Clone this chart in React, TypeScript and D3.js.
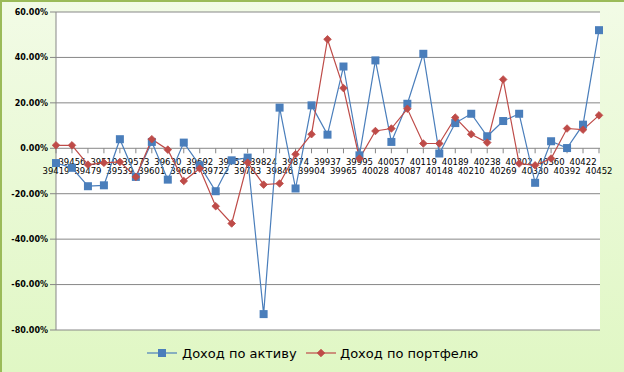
import React from 'react';
import * as d3 from 'd3';

const dates = [
  '39419', '39456', '39479', '39510', '39539', '39573', '39601', '39630', '39661', '39692',
  '39722', '39753', '39783', '39824', '39846', '39874', '39904', '39937', '39965', '39995',
  '40028', '40057', '40087', '40119', '40148', '40189', '40210', '40238', '40269', '40302',
  '40330', '40360', '40392', '40422', '40452',
];

// Доход по активу
const assetReturn = [
  -6.5, -8.6, -16.7, -16.3, 4.0, -12.6, 2.8, -13.8, 2.5, -7.5,
  -18.9, -5.3, -4.1, -73.0, 17.9, -17.7, 18.9, 6.0, 36.0, -3.1,
  38.7, 2.8, 19.6, 41.6, -2.3, 11.1, 15.2, 5.3, 12.0, 15.2,
  -15.2, 3.1, 0.1, 10.4, 52.0,
];

// Доход по портфелю
const portfolioReturn = [
  1.3, 1.3, -7.2, -6.4, -6.0, -12.6, 4.0, -0.6, -14.4, -8.9,
  -25.5, -33.1, -6.3, -16.0, -15.5, -2.6, 6.2, 48.0, 26.5, -4.5,
  7.6, 8.7, 17.4, 2.1, 2.1, 13.5, 6.2, 2.5, 30.3, -6.7,
  -7.5, -4.5, 8.7, 8.2, 14.5,
];

const yTicks = [60, 40, 20, 0, -20, -40, -60, -80];

const W = 624;
const H = 372;
const plot = { left: 56, right: 599, top: 12, bottom: 330 };
const BLUE = '#4a7ebb';
const RED = '#be4b48';
const GRID = '#878787';

export default function App() {
  const x = d3.scalePoint<number>()
    .domain(d3.range(dates.length))
    .range([plot.left, plot.right]);
  const y = d3.scaleLinear().domain([-80, 60]).range([plot.bottom, plot.top]);

  const line = d3.line<number>()
    .x((_, i) => x(i)!)
    .y(d => y(d));

  const diamond = (cx: number, cy: number, r: number) =>
    `M${cx},${cy - r}L${cx + r},${cy}L${cx},${cy + r}L${cx - r},${cy}Z`;

  return (
    <svg
      width={W}
      height={H}
      style={{ position: 'absolute', left: 0, top: 0, fontFamily: 'DejaVu Sans' }}
    >
      <defs>
        <linearGradient id="bg" x1="0" y1="0" x2="0" y2="1">
          <stop offset="0" stopColor="#f2fbe6" />
          <stop offset="1" stopColor="#e0f7c4" />
        </linearGradient>
      </defs>
      <rect x={0} y={0} width={W} height={H} fill="url(#bg)" />
      <path d={`M1,${H}V1H${W}`} fill="none" stroke="#9bbb59" strokeWidth={2} />

      <rect
        x={plot.left}
        y={plot.top}
        width={plot.right - plot.left + 1}
        height={plot.bottom - plot.top}
        fill="#fff"
      />

      {yTicks.map(t => (
        <g key={t}>
          <line x1={plot.left - 6} x2={plot.right + 1} y1={y(t)} y2={y(t)} stroke={GRID} strokeWidth={1} />
          <text
            x={plot.left - 8}
            y={y(t)}
            dy="0.35em"
            textAnchor="end"
            fontSize={8}
            fontWeight="bold"
            fill="#000"
          >
            {`${t.toFixed(2)}%`}
          </text>
        </g>
      ))}
      <line x1={plot.left} x2={plot.left} y1={plot.top} y2={plot.bottom} stroke={GRID} strokeWidth={1} />

      {dates.map((d, i) => (
        <g key={d}>
          <line x1={x(i)} x2={x(i)} y1={y(0)} y2={y(0) + 5} stroke={GRID} strokeWidth={1} />
          <text
            x={x(i)}
            y={y(0) + (i % 2 === 0 ? 26 : 17)}
            textAnchor="middle"
            fontSize={8.5}
            fill="#000"
          >
            {d}
          </text>
        </g>
      ))}

      <path d={line(assetReturn) ?? ''} fill="none" stroke={BLUE} strokeWidth={1.2} />
      <path d={line(portfolioReturn) ?? ''} fill="none" stroke={RED} strokeWidth={1.2} />

      {assetReturn.map((v, i) => (
        <rect key={i} x={x(i)! - 4} y={y(v) - 4} width={8} height={8} fill={BLUE} />
      ))}
      {portfolioReturn.map((v, i) => (
        <path key={i} d={diamond(x(i)!, y(v), 3.8)} fill={RED} stroke={RED} strokeWidth={0.8} />
      ))}

      <g transform="translate(147,353)">
        <line x1={0} x2={30} y1={0} y2={0} stroke={BLUE} strokeWidth={1.2} />
        <rect x={11} y={-4} width={8} height={8} fill={BLUE} />
        <text x={35} y={0} dy="0.35em" fontSize={13} fill="#000">Доход по активу</text>
        <line x1={159} x2={189} y1={0} y2={0} stroke={RED} strokeWidth={1.2} />
        <path d={diamond(174, 0, 3.8)} fill={RED} stroke={RED} strokeWidth={0.8} />
        <text x={193} y={0} dy="0.35em" fontSize={13} fill="#000">Доход по портфелю</text>
      </g>
    </svg>
  );
}
